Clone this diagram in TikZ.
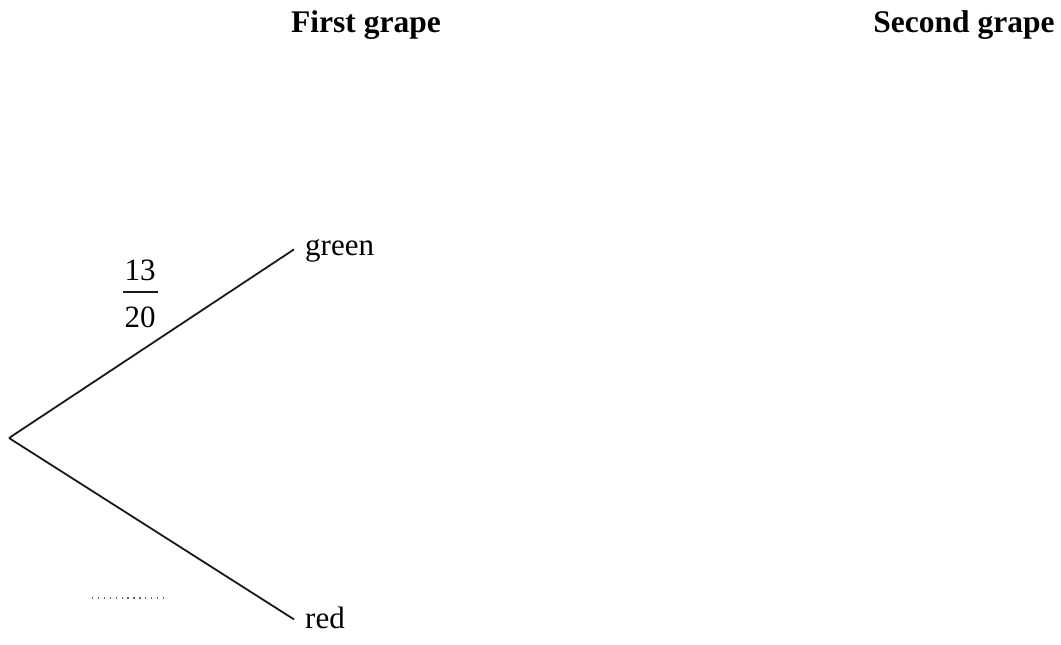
\documentclass[tikz,border=0pt]{standalone}
\usepackage{fontspec}
\setmainfont{Liberation Serif}
\begin{document}
\begin{tikzpicture}[x=1pt,y=-1pt,
  every node/.style={inner sep=0pt, font=\fontsize{31}{36}\selectfont},
  head/.style={font=\fontsize{31.5}{36}\selectfont\bfseries, anchor=base},
  leaf/.style={anchor=base west},
  branch/.style={line width=1.8pt, black!90},
  answerdots/.style={line width=1.3pt, black!60, dash pattern=on 1.3pt off 4.6pt}]
\useasboundingbox (0,0) rectangle (1061,645);
\node[head] (h1) at (366,32) {First grape};
\node[head] (h2) at (964,32) {Second grape};
\coordinate (root) at (9,438);
\node[leaf] (green) at (305,255) {green};
\node[leaf] (red) at (305,628) {red};
\draw[branch] (root) -- ([xshift=-11pt,yshift=1pt]green.west);
\draw[branch] (root) -- ([xshift=-11pt,yshift=-2pt]red.west);
\node[anchor=base] (num) at (140,280) {13};
\node[anchor=base] (den) at (140,327) {20};
\draw[line width=1.4pt, black!90] ([yshift=-12pt]num.base -| 123,0) -- ([yshift=-12pt]num.base -| 158,0);
\coordinate (d1) at (92,598);
\coordinate (d2) at (168,598);
\draw[answerdots] (d1) -- (d2);
\end{tikzpicture}
\end{document}
